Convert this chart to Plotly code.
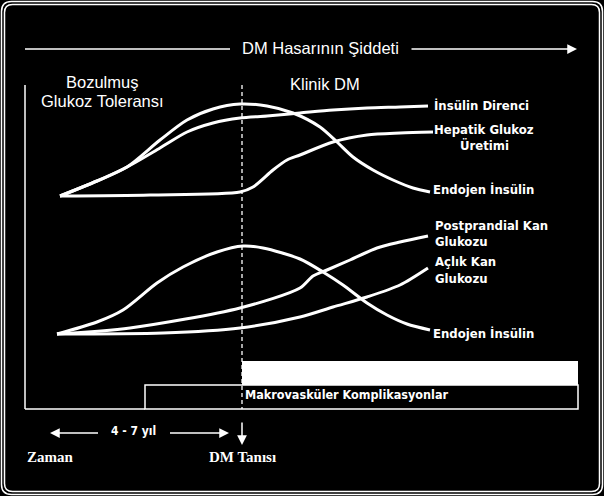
import plotly.graph_objects as go

# ---- curve data (diagram coordinates: x = time, y = level; screen-like units) ----
up_endo_x = [60, 97, 127, 160, 187, 213, 240, 267, 293, 320, 337, 353, 373, 393, 413, 430]
up_endo_y = [196, 181, 167, 140, 120, 109, 104, 106, 113, 127, 142, 157, 170, 180, 188, 192]

ins_dir_x = [60, 97, 127, 160, 187, 213, 240, 267, 300, 333, 367, 400, 428]
ins_dir_y = [196, 181, 167, 148, 132, 123, 118, 116, 113, 110, 108, 107, 106]

hep_x = [60, 150, 240, 253, 273, 287, 300, 333, 367, 400, 433]
hep_y = [196, 195, 192, 187, 170, 160, 155, 142, 135, 133, 132]

lo_endo_x = [57, 97, 123, 157, 183, 217, 243, 263, 300, 323, 343, 367, 387, 407, 430]
lo_endo_y = [334, 322, 310, 283, 267, 252, 246, 248, 259, 272, 285, 303, 315, 324, 330]

pp_x = [57, 130, 240, 300, 313, 327, 350, 377, 400, 428]
pp_y = [334, 328, 308, 288, 276, 270, 260, 248, 242, 236]

ac_x = [57, 163, 240, 300, 333, 367, 400, 428]
ac_y = [334, 333, 328, 317, 307, 297, 285, 268]

W = "white"
fig = go.Figure()

def curve(x, y):
    fig.add_trace(go.Scatter(x=x, y=y, mode="lines",
                             line=dict(color=W, width=3, shape="spline", smoothing=0.8),
                             hoverinfo="skip", showlegend=False))

for xs, ys in [(up_endo_x, up_endo_y), (ins_dir_x, ins_dir_y), (hep_x, hep_y),
               (lo_endo_x, lo_endo_y), (pp_x, pp_y), (ac_x, ac_y)]:
    curve(xs, ys)

shapes = []
# double rounded frame
def rrect(x0, y0, x1, y1, r):
    return (f"M {x0+r},{y0} L {x1-r},{y0} Q {x1},{y0} {x1},{y0+r} "
            f"L {x1},{y1-r} Q {x1},{y1} {x1-r},{y1} L {x0+r},{y1} "
            f"Q {x0},{y1} {x0},{y1-r} L {x0},{y0+r} Q {x0},{y0} {x0+r},{y0} Z")
shapes.append(dict(type="path", path=rrect(1.5, 1.5, 602.5, 494.5, 10), line=dict(color=W, width=1.5)))
shapes.append(dict(type="path", path=rrect(4.5, 4.5, 599.5, 491.5, 8), line=dict(color=W, width=1.5)))

# title line (left part)
shapes.append(dict(type="line", x0=25, y0=49, x1=230, y1=49, line=dict(color=W, width=1.5)))
# left axis and bottom base
shapes.append(dict(type="line", x0=25, y0=85, x1=25, y1=409, line=dict(color=W, width=1.5)))
shapes.append(dict(type="line", x0=25, y0=409, x1=145, y1=409, line=dict(color=W, width=1.5)))
# dashed diagnosis line
shapes.append(dict(type="line", x0=242, y0=85, x1=242, y1=409, line=dict(color=W, width=1.3, dash="4px,3px")))
# white filled bar
shapes.append(dict(type="rect", x0=242, y0=361, x1=578, y1=385, fillcolor=W, line=dict(color=W, width=0)))
# macrovascular box
shapes.append(dict(type="rect", x0=145, y0=385, x1=578, y1=409, line=dict(color=W, width=1.5)))
# 4-7 yıl lines
shapes.append(dict(type="line", x0=55, y0=433, x1=98, y1=433, line=dict(color=W, width=1.5)))
shapes.append(dict(type="line", x0=170, y0=433, x1=222, y1=433, line=dict(color=W, width=1.5)))

annotations = []
def arrow(x, y, ax, ay):
    annotations.append(dict(x=x, y=y, ax=ax, ay=ay, xref="x", yref="y", axref="x", ayref="y",
                            text="", showarrow=True, arrowhead=2, arrowsize=1.3,
                            arrowwidth=1.5, arrowcolor=W))
arrow(577, 49, 410, 49)
arrow(50, 433, 60, 433)
arrow(229, 433, 219, 433)
arrow(242, 445, 242, 421)

def txt(x, y, s, size=13, family="Arial, Liberation Sans, sans-serif", xanchor="center", bold=False):
    if bold:
        s = "<b>" + s + "</b>"
    annotations.append(dict(x=x, y=y, xref="x", yref="y", text=s, showarrow=False,
                            xanchor=xanchor, yanchor="middle",
                            font=dict(color=W, size=size, family=family)))

narrow = "Liberation Sans Narrow, Arial Narrow, DejaVu Sans Condensed, sans-serif"
serif = "Liberation Serif, Times New Roman, serif"

txt(320, 48, "DM Hasarının Şiddeti", size=16.5)
txt(102, 82, "Bozulmuş", size=16.5)
txt(102, 101, "Glukoz Toleransı", size=16.5)
txt(325, 84, "Klinik DM", size=16.5)

txt(432, 105, "İnsülin Direnci", size=13, family=narrow, xanchor="left", bold=True)
txt(484, 129, "Hepatik Glukoz", size=13, family=narrow, bold=True)
txt(484, 145, "Üretimi", size=13, family=narrow, bold=True)
txt(431, 189, "Endojen İnsülin", size=13, family=narrow, xanchor="left", bold=True)
txt(433, 225, "Postprandial Kan", size=13, family=narrow, xanchor="left", bold=True)
txt(433, 241, "Glukozu", size=13, family=narrow, xanchor="left", bold=True)
txt(433, 261, "Açlık Kan", size=13, family=narrow, xanchor="left", bold=True)
txt(433, 278, "Glukozu", size=13, family=narrow, xanchor="left", bold=True)
txt(431, 333, "Endojen İnsülin", size=13, family=narrow, xanchor="left", bold=True)
txt(243, 394, "Makrovasküler Komplikasyonlar", size=12.5, family=narrow, xanchor="left", bold=True)
txt(133, 431, "4 - 7 yıl", size=12, family=narrow, bold=True)
txt(25, 457, "Zaman", size=15, family=serif, xanchor="left", bold=True)
txt(242, 457, "DM Tanısı", size=15, family=serif, bold=True)

fig.update_layout(
    width=604, height=496, margin=dict(l=0, r=0, t=0, b=0),
    paper_bgcolor="black", plot_bgcolor="black",
    xaxis=dict(range=[0, 604], visible=False, fixedrange=True),
    yaxis=dict(range=[496, 0], visible=False, fixedrange=True),
    shapes=shapes, annotations=annotations, showlegend=False,
)
fig.write_html("out.html")
